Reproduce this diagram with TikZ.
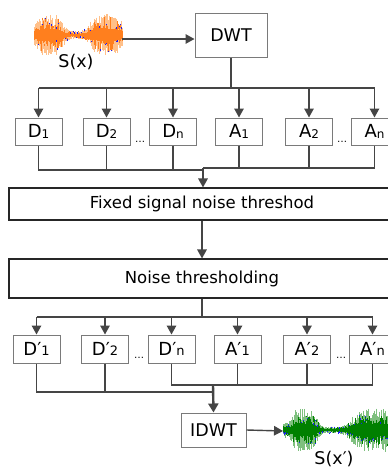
\documentclass[tikz,border=0pt]{standalone}
\usepackage{fontspec}
\setmainfont{DejaVu Sans}
\usetikzlibrary{arrows.meta}
\definecolor{conn}{HTML}{454545}
\definecolor{boxgray}{HTML}{7A7A7A}
\definecolor{wor}{HTML}{FF7F1E}
\definecolor{worl}{HTML}{FFC08A}
\definecolor{wgr}{HTML}{008000}
\definecolor{wgrl}{HTML}{7FC07F}
\definecolor{wbl}{HTML}{1A1AFF}
\newcommand\sba[1]{\raisebox{-1.5pt}{\fontsize{12}{12}\selectfont #1}}
\newcommand\sbb[1]{\raisebox{-0.5pt}{\fontsize{13}{13}\selectfont #1}}
% one column of a waveform: x, centre y, envelope, light colour, dark colour
\newcommand\wavecol[5]{%
  \pgfmathsetmacro\ul{#3*(0.35+0.75*rnd)}%
  \pgfmathsetmacro\dl{#3*(0.35+0.75*rnd)}%
  \pgfmathsetmacro\uo{#3*(0.3+0.7*rnd*rnd)}%
  \pgfmathsetmacro\do{#3*(0.3+0.7*rnd*rnd)}%
  \draw[#4, line width=0.7pt] (#1,#2-\ul) -- (#1,#2+\dl);%
  \pgfmathsetmacro\qa{rnd}%
  \ifdim\qa pt>0.8pt
    \draw[wbl, line width=0.6pt] (#1,#2-\uo-1.3) -- (#1,#2-\uo);%
  \fi
  \pgfmathsetmacro\qb{rnd}%
  \ifdim\qb pt>0.8pt
    \draw[wbl, line width=0.6pt] (#1,#2+\do+1.3) -- (#1,#2+\do);%
  \fi
  \draw[#5, line width=0.75pt] (#1,#2-\uo) -- (#1,#2+\do);%
}
\begin{document}
\begin{tikzpicture}[x=1pt,y=-1pt,
  line/.style={draw=conn, line width=1.4pt},
  thick line/.style={draw=conn, line width=2.4pt},
  arr/.style={line, -{Triangle[length=9pt,width=9.5pt]}},
  box/.style={draw=boxgray, line width=1pt, minimum width=47pt, inner sep=0pt, fill=white, font=\fontsize{18}{18}\selectfont},
  rowa/.style={box, minimum height=27pt},
  rowb/.style={box, minimum height=28pt},
  wide/.style={draw=black!85, line width=1.1pt, minimum width=386pt, inner sep=0pt, fill=white, font=\fontsize{16.5}{18}\selectfont},
  lbl/.style={inner sep=0pt, font=\fontsize{17.5}{18}\selectfont},
  dots/.style={inner sep=0pt, font=\fontsize{10}{10}\selectfont}
]
\useasboundingbox (0,0) rectangle (388,469);
\fill[white] (0,0) rectangle (388,469);

% ---------- input waveform (orange) ----------
\pgfmathsetseed{11}
\foreach \i in {0,...,176}{
  \pgfmathsetmacro\r{\i*0.5}
  \pgfmathsetmacro\xx{34+\r}
  \pgfmathsetmacro\ee{4+15*exp(-min(((\r-15)*(\r-15)/225)^2,20))+15*exp(-min(((\r-72)*(\r-72)/300)^2,20))}
  \wavecol{\xx}{35}{\ee}{worl}{wor}
}
\coordinate (w1) at (122,39);
\node[lbl] (sx) at (76,62) {S(x)};

% ---------- output waveform (green) ----------
\pgfmathsetseed{23}
\foreach \i in {0,...,220}{
  \pgfmathsetmacro\r{\i*0.5}
  \pgfmathsetmacro\xx{283+\r}
  \pgfmathsetmacro\ee{3+4*exp(-min((\r-2)*(\r-2)/9,20))+17*exp(-min(((\r-21)*(\r-21)/196)^2,20))+17*exp(-min(((\r-93)*(\r-93)/700)^2,20))}
  \wavecol{\xx}{430}{\ee}{wgrl}{wgr}
}
\coordinate (w2) at (283,431);
\node[lbl] (sxp) at (334,459) {S(x′)};

% ---------- boxes ----------
\node[box, minimum width=72pt, minimum height=44pt, font=\fontsize{17.5}{18}\selectfont] (dwt) at (231,35) {DWT};

\node[rowa] (d1) at (38.5,131.5) {D\sba{1}};
\node[rowa] (d2) at (106.5,131.5) {D\sba{2}};
\node[rowa] (dn) at (173,131.5) {D\sba{n}};
\node[rowa] (a1) at (239,131.5) {A\sba{1}};
\node[rowa] (a2) at (309,131.5) {A\sba{2}};
\node[rowa] (an) at (374.5,131.5) {A\sba{n}};
\node[dots] (dt1) at (140,142) {…};
\node[dots] (dt2) at (342,142) {…};

\node[wide, minimum height=32pt] (fix) at (202,204) {Fixed signal noise threshod};
\node[wide, minimum height=39pt] (nt) at (202,278.5) {Noise thresholding};

\node[rowb] (e1) at (36.5,349) {D′\sbb{1}};
\node[rowb] (e2) at (105,349) {D′\sbb{2}};
\node[rowb] (en) at (171.5,349) {D′\sbb{n}};
\node[rowb] (b1) at (237.5,349) {A′\sbb{1}};
\node[rowb] (b2) at (307,349) {A′\sbb{2}};
\node[rowb] (bn) at (372.5,349) {A′\sbb{n}};
\node[dots] (dt3) at (139,358) {…};
\node[dots] (dt4) at (341,358) {…};

\node[box, minimum width=65pt, minimum height=34pt, font=\fontsize{17.5}{18}\selectfont] (idwt) at (213.5,430) {IDWT};

% ---------- connectors ----------
\draw[arr] (w1) -- (dwt.west |- w1);

\coordinate (bus1) at (231,88);
\draw[thick line] (dwt.south) -- (bus1);
\draw[line] (d1.north |- bus1) -- (an.north |- bus1);
\foreach \n in {d1,d2,dn,a1,a2,an}{
  \draw[arr] (\n.north |- bus1) -- (\n.north);
}

\coordinate (j1) at (203,170);
\coordinate (j2) at (203,168);
\draw[line] (d1.south) |- (j1);
\draw[line] (d2.south) -- (d2.south |- j1);
\draw[line] (dn.south) -- (dn.south |- j1);
\draw[line] (an.south) |- (j2);
\draw[line] (a1.south) -- (a1.south |- j2);
\draw[line] (a2.south) -- (a2.south |- j2);
\draw[arr] (j2) -- (j2 |- fix.north);

\draw[arr] (fix.south) -- (nt.north);

\coordinate (bus2) at (202,317);
\draw[line] (nt.south) -- (bus2);
\draw[line] (e1.north |- bus2) -- (bn.north |- bus2);
\foreach \n in {e1,e2,en,b1,b2,bn}{
  \draw[arr] (\n.north |- bus2) -- (\n.north);
}

\coordinate (j3) at (213,392);
\coordinate (j4) at (213,385);
\draw[line] (e1.south) |- (j3);
\draw[line] (e2.south) -- (e2.south |- j3);
\draw[line] (en.south) |- (j4);
\draw[line] (bn.south) |- (j4);
\draw[line] (b1.south) -- (b1.south |- j4);
\draw[line] (b2.south) -- (b2.south |- j4);
\draw[thick line, -{Triangle[length=9pt,width=10pt]}] (j4) -- (idwt.north);

\draw[arr] (idwt.east) -- (w2);
\end{tikzpicture}
\end{document}
